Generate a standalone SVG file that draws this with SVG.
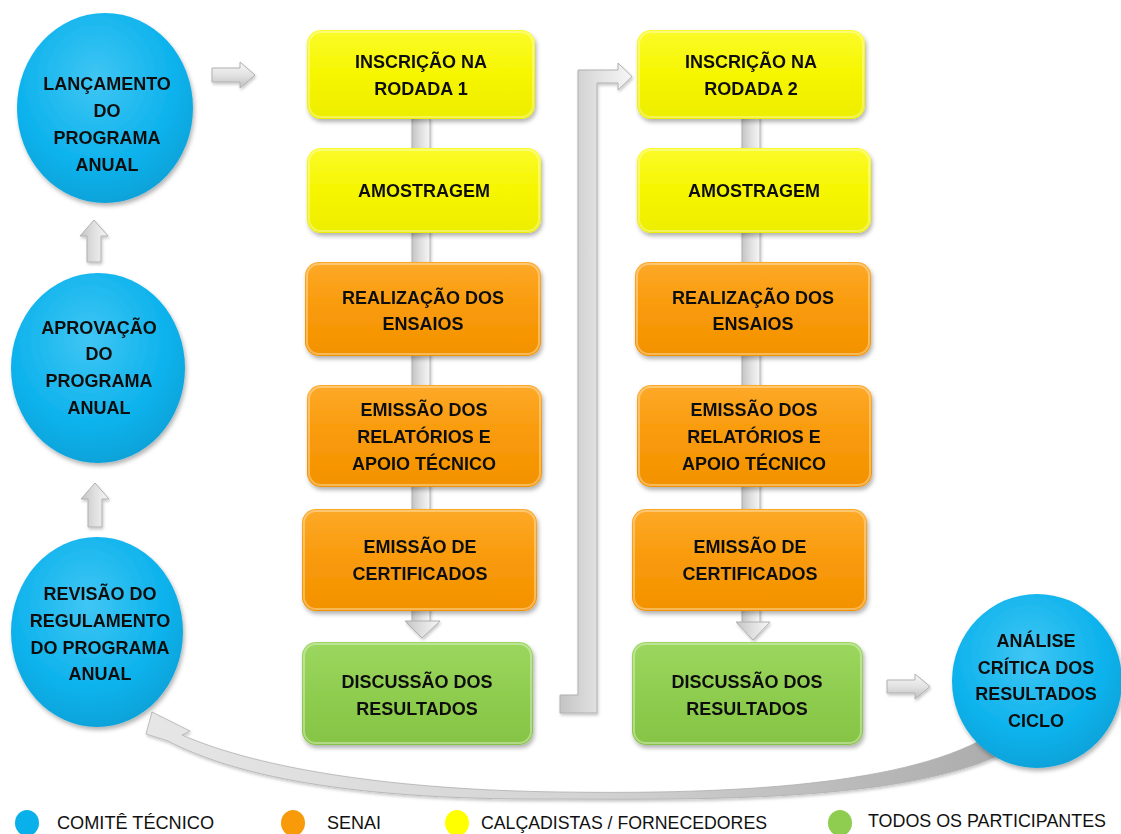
<svg xmlns="http://www.w3.org/2000/svg" width="1121" height="834" viewBox="0 0 1121 834">
<defs>
<style>
.t{font-family:"Liberation Sans",Arial,sans-serif;font-weight:bold;font-size:18px;fill:#111;text-anchor:middle}
.lg{font-family:"Liberation Sans",Arial,sans-serif;font-size:18px;fill:#111}
.gray{fill:url(#gGray);stroke:#b0b0b0;stroke-width:1}
.grayV{fill:url(#gGrayV);stroke:#b0b0b0;stroke-width:1}
.box{filter:url(#sh)}
.hl{fill:none;stroke:#fff;stroke-opacity:.35;stroke-width:2}
</style>
<linearGradient id="gY" x1="0" y1="0" x2="0" y2="1"><stop offset="0" stop-color="#fbfb2a"/><stop offset=".5" stop-color="#f6f600"/><stop offset="1" stop-color="#eded00"/></linearGradient>
<linearGradient id="gO" x1="0" y1="0" x2="0" y2="1"><stop offset="0" stop-color="#fda928"/><stop offset=".5" stop-color="#f99a0a"/><stop offset="1" stop-color="#f39200"/></linearGradient>
<linearGradient id="gG" x1="0" y1="0" x2="0" y2="1"><stop offset="0" stop-color="#9bd75e"/><stop offset=".5" stop-color="#8fcd50"/><stop offset="1" stop-color="#86c445"/></linearGradient>
<radialGradient id="gB" cx=".45" cy=".35" r=".65"><stop offset="0" stop-color="#40c6f4"/><stop offset=".7" stop-color="#0cb2ec"/><stop offset="1" stop-color="#0aa3da"/></radialGradient>
<linearGradient id="gGray" x1="0" y1="0" x2="1" y2="0"><stop offset="0" stop-color="#c4c4c4"/><stop offset=".5" stop-color="#e0e0e0"/><stop offset="1" stop-color="#f6f6f6"/></linearGradient>
<linearGradient id="gGrayV" x1="0" y1="0" x2="0" y2="1"><stop offset="0" stop-color="#f8f8f8"/><stop offset=".5" stop-color="#e2e2e2"/><stop offset="1" stop-color="#c0c0c0"/></linearGradient>
<linearGradient id="gCurve" x1="0" y1="0" x2="1" y2="0"><stop offset="0" stop-color="#e6e6e6"/><stop offset=".5" stop-color="#d4d4d4"/><stop offset="1" stop-color="#acacac"/></linearGradient>
<filter id="sh" x="-10%" y="-10%" width="125%" height="130%"><feDropShadow dx="1.5" dy="3" stdDeviation="2" flood-color="#000" flood-opacity=".3"/></filter>
<filter id="shs" x="-10%" y="-10%" width="125%" height="130%"><feDropShadow dx="1" dy="2" stdDeviation="1.5" flood-color="#000" flood-opacity=".22"/></filter>
</defs>
<rect width="1121" height="834" fill="#fff"/>

<g id="connectors" filter="url(#shs)">
  <path fill="url(#gCurve)" stroke="#b0b0b0" stroke-width=".8" d="M990,735 C900,790 700,794 560,792 C400,790 262,770 182,735 L190,731 L152,712 L146,734 L168,741 C262,790 420,800 560,799 C720,800 900,800 1000,755 Z"/>
  <rect class="gray" x="412" y="118" width="18" height="504"/>
  <polygon class="gray" points="405,621 440,621 422,638"/>
  <rect class="gray" x="742" y="118" width="18" height="505"/>
  <polygon class="gray" points="736,622 770,622 753,640"/>
  <polygon class="gray" points="578,70 618,70 618,63 632,76.5 618,90 618,83 597,83 597,713 560,713 560,695 578,695"/>
  <polygon class="gray" points="80,236 94,220 108,236 101,236 101,262 87,262 87,236"/>
  <polygon class="gray" points="81,499 95,483 109,499 102,499 102,527 88,527 88,499"/>
  <polygon class="grayV" points="212,68 240,68 240,62 255,75 240,88 240,82 212,82"/>
  <polygon class="grayV" points="887,680 915,680 915,674 930,686.5 915,699 915,693 887,693"/>
</g>

<g id="c1" class="box"><ellipse cx="105" cy="108" rx="88" ry="95" fill="url(#gB)"/>
<text class="t" x="107" y="90">LANÇAMENTO</text><text class="t" x="107" y="117">DO</text><text class="t" x="107" y="144">PROGRAMA</text><text class="t" x="107" y="171">ANUAL</text></g>
<g id="c2" class="box"><ellipse cx="98" cy="368" rx="87" ry="95" fill="url(#gB)"/>
<text class="t" x="99" y="334">APROVAÇÃO</text><text class="t" x="99" y="360">DO</text><text class="t" x="99" y="387">PROGRAMA</text><text class="t" x="99" y="414">ANUAL</text></g>
<g id="c3" class="box"><ellipse cx="97" cy="632" rx="86" ry="95" fill="url(#gB)"/>
<text class="t" x="100" y="600">REVISÃO DO</text><text class="t" x="100" y="627">REGULAMENTO</text><text class="t" x="100" y="654">DO PROGRAMA</text><text class="t" x="100" y="680">ANUAL</text></g>
<g id="c4" class="box"><ellipse cx="1037" cy="681" rx="85" ry="87" fill="url(#gB)"/>
<text class="t" x="1036" y="647">ANÁLISE</text><text class="t" x="1036" y="674">CRÍTICA DOS</text><text class="t" x="1036" y="700">RESULTADOS</text><text class="t" x="1036" y="727">CICLO</text></g>

<g id="b1a" class="box"><rect x="307" y="30" width="228" height="89" rx="14" fill="url(#gY)"/><rect class="hl" x="309" y="32" width="224" height="85" rx="12"/>
<text class="t" x="421" y="67.5">INSCRIÇÃO NA</text><text class="t" x="421" y="94.5">RODADA 1</text></g>
<g id="b1b" class="box"><rect x="307" y="148" width="234" height="85" rx="14" fill="url(#gY)"/><rect class="hl" x="309" y="150" width="230" height="81" rx="12"/>
<text class="t" x="424" y="196.5">AMOSTRAGEM</text></g>
<g id="b1c" class="box"><rect x="305" y="262" width="236" height="94" rx="14" fill="url(#gO)"/><rect class="hl" x="307" y="264" width="232" height="90" rx="12"/>
<text class="t" x="423" y="303.5">REALIZAÇÃO DOS</text><text class="t" x="423" y="329.5">ENSAIOS</text></g>
<g id="b1d" class="box"><rect x="307" y="385" width="235" height="102" rx="14" fill="url(#gO)"/><rect class="hl" x="309" y="387" width="231" height="98" rx="12"/>
<text class="t" x="424" y="415.5">EMISSÃO DOS</text><text class="t" x="424" y="442.5">RELATÓRIOS E</text><text class="t" x="424" y="469.5">APOIO TÉCNICO</text></g>
<g id="b1e" class="box"><rect x="302" y="509" width="235" height="102" rx="14" fill="url(#gO)"/><rect class="hl" x="304" y="511" width="231" height="98" rx="12"/>
<text class="t" x="420" y="552.5">EMISSÃO DE</text><text class="t" x="420" y="579.5">CERTIFICADOS</text></g>
<g id="b1f" class="box"><rect x="302" y="642" width="231" height="103" rx="14" fill="url(#gG)"/><rect class="hl" x="304" y="644" width="227" height="99" rx="12"/>
<text class="t" x="417" y="687.5">DISCUSSÃO DOS</text><text class="t" x="417" y="714.5">RESULTADOS</text></g>

<g id="b2a" class="box"><rect x="637" y="30" width="228" height="89" rx="14" fill="url(#gY)"/><rect class="hl" x="639" y="32" width="224" height="85" rx="12"/>
<text class="t" x="751" y="67.5">INSCRIÇÃO NA</text><text class="t" x="751" y="94.5">RODADA 2</text></g>
<g id="b2b" class="box"><rect x="637" y="148" width="234" height="85" rx="14" fill="url(#gY)"/><rect class="hl" x="639" y="150" width="230" height="81" rx="12"/>
<text class="t" x="754" y="196.5">AMOSTRAGEM</text></g>
<g id="b2c" class="box"><rect x="635" y="262" width="236" height="94" rx="14" fill="url(#gO)"/><rect class="hl" x="637" y="264" width="232" height="90" rx="12"/>
<text class="t" x="753" y="303.5">REALIZAÇÃO DOS</text><text class="t" x="753" y="329.5">ENSAIOS</text></g>
<g id="b2d" class="box"><rect x="637" y="385" width="235" height="102" rx="14" fill="url(#gO)"/><rect class="hl" x="639" y="387" width="231" height="98" rx="12"/>
<text class="t" x="754" y="415.5">EMISSÃO DOS</text><text class="t" x="754" y="442.5">RELATÓRIOS E</text><text class="t" x="754" y="469.5">APOIO TÉCNICO</text></g>
<g id="b2e" class="box"><rect x="632" y="509" width="235" height="102" rx="14" fill="url(#gO)"/><rect class="hl" x="634" y="511" width="231" height="98" rx="12"/>
<text class="t" x="750" y="552.5">EMISSÃO DE</text><text class="t" x="750" y="579.5">CERTIFICADOS</text></g>
<g id="b2f" class="box"><rect x="632" y="642" width="231" height="103" rx="14" fill="url(#gG)"/><rect class="hl" x="634" y="644" width="227" height="99" rx="12"/>
<text class="t" x="747" y="687.5">DISCUSSÃO DOS</text><text class="t" x="747" y="714.5">RESULTADOS</text></g>

<g id="legend">
  <ellipse cx="27" cy="823" rx="12" ry="13" fill="#0ab0ea"/>
  <text class="lg" x="57" y="829" textLength="157" lengthAdjust="spacingAndGlyphs">COMITÊ TÉCNICO</text>
  <ellipse cx="293" cy="823" rx="12" ry="13" fill="#f99a0a"/>
  <text class="lg" x="327" y="829" textLength="54" lengthAdjust="spacingAndGlyphs">SENAI</text>
  <ellipse cx="457" cy="823" rx="12" ry="13" fill="#ffff00"/>
  <text class="lg" x="481" y="829" textLength="286" lengthAdjust="spacingAndGlyphs">CALÇADISTAS / FORNECEDORES</text>
  <ellipse cx="840" cy="823" rx="12" ry="13" fill="#8fcd50"/>
  <text class="lg" x="868" y="827" textLength="238" lengthAdjust="spacingAndGlyphs">TODOS OS PARTICIPANTES</text>
</g>
</svg>
